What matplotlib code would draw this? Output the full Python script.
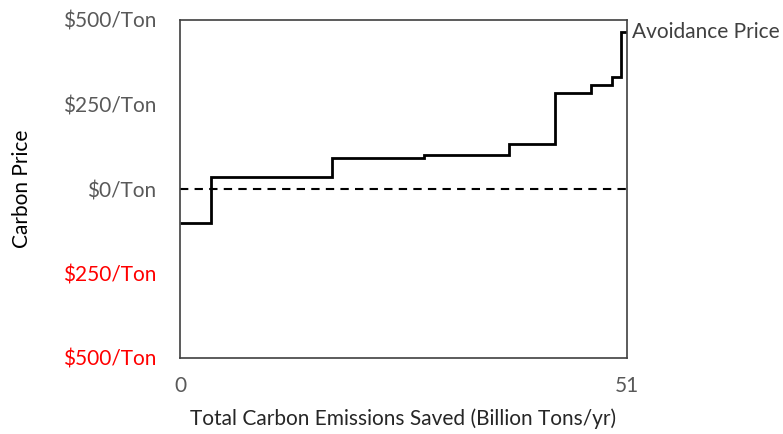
import matplotlib
matplotlib.use("agg")

import matplotlib.pyplot as plt
import matplotlib.transforms as mtransforms


# Step curve: cumulative emissions saved (edges) and price of each block.
x_edges = [0, 3.5, 17.3, 27.8, 37.5, 42.8, 46.9, 49.3, 50.3, 51]
prices = [-100, 35, 92, 100, 133, 283, 308, 330, 464]

y_ticks = [500, 250, 0, -250, -500]
y_tick_labels = ["$500/Ton", "$250/Ton", "$0/Ton", "$250/Ton", "$500/Ton"]
y_tick_colors = ["#595959", "#595959", "#595959", "red", "red"]
x_ticks = [0, 51]

plt.rcParams["font.family"] = ["Lato", "DejaVu Sans"]

fig = plt.figure(figsize=(7.83, 4.34), dpi=100)
ax = fig.add_axes([180 / 783, 76 / 434, 447 / 783, 338 / 434])

ax.stairs(prices, x_edges, baseline=None, color="black", linewidth=2)
ax.axhline(0, color="black", linestyle=(0, (4, 3)), linewidth=1.5)

ax.set_xlim(0, 51)
ax.set_ylim(-500, 500)

for side in ["left", "right", "top", "bottom"]:
    ax.spines[side].set_color("#404040")
    ax.spines[side].set_linewidth(1.2)

ax.set_yticks(y_ticks)
ax.set_yticklabels(y_tick_labels, fontsize=15)
for lbl, c in zip(ax.get_yticklabels(), y_tick_colors):
    lbl.set_color(c)
ax.set_xticks(x_ticks)
ax.set_xticklabels([str(v) for v in x_ticks], fontsize=15, color="#595959")
ax.tick_params(axis="y", length=0, pad=17)
ax.tick_params(axis="x", length=0, pad=13)

ax.set_xlabel("Total Carbon Emissions Saved (Billion Tons/yr)",
              fontsize=15, color="#262626", labelpad=9)
ax.set_ylabel("Carbon Price", fontsize=15, color="black", labelpad=22)

# label next to the last step: axes x, data y
trans = mtransforms.blended_transform_factory(ax.transAxes, ax.transData)
ax.text(1.012, prices[-1], "Avoidance Price", transform=trans,
        fontsize=15, color="#404040",
        horizontalalignment="left", verticalalignment="center")

fig.savefig("out.png")
